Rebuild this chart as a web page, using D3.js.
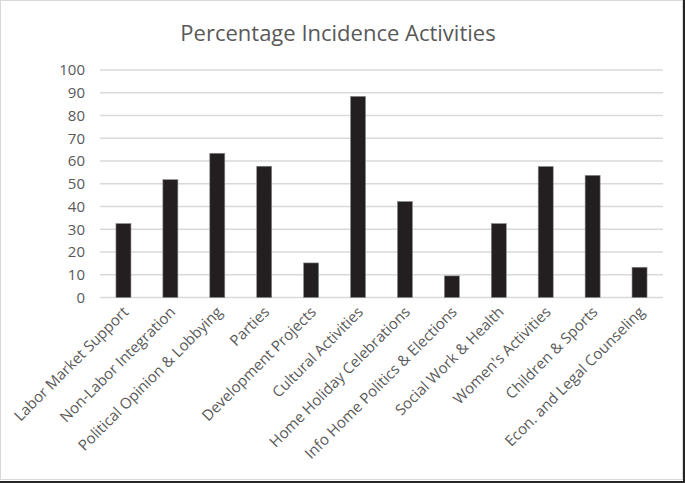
<!DOCTYPE html>
<html>
<head>
<meta charset="utf-8">
<script src="https://cdn.jsdelivr.net/npm/d3@7"></script>
<style>
  body { margin: 0; background: #fff; }
  text { font-family: "Open Sans", sans-serif; fill: #595959; }
</style>
</head>
<body>
<div id="chart"></div>
<script>
// values
var categories = ["Labor Market Support", "Non-Labor Integration", "Political Opinion & Lobbying",
    "Parties", "Development Projects", "Cultural Activities", "Home Holiday Celebrations",
    "Info Home Politics & Elections", "Social Work & Health", "Women's Activities",
    "Children & Sports", "Econ. and Legal Counseling"];
var percentages = [32.5, 51.8, 63.4, 57.7, 15.2, 88.4, 42.2, 9.5, 32.5, 57.6, 53.7, 13.3];
var yTicks = [0, 10, 20, 30, 40, 50, 60, 70, 80, 90, 100];
var title = "Percentage Incidence Activities";

var W = 685, H = 483;
var margin = {top: 70, right: 22, bottom: 185, left: 100};

var svg = d3.select("#chart").append("svg")
    .attr("width", W)
    .attr("height", H);

// frame: light outline plus dark shadow on right and bottom
svg.append("rect")
    .attr("x", 0.5).attr("y", 0.5)
    .attr("width", 682).attr("height", 479)
    .attr("fill", "white")
    .attr("stroke", "#d9d9d9");
svg.append("rect")
    .attr("x", 683).attr("y", 0)
    .attr("width", 2).attr("height", H)
    .attr("fill", "#262626");
svg.append("rect")
    .attr("x", 0).attr("y", 481)
    .attr("width", W).attr("height", 2)
    .attr("fill", "#262626");

var x = d3.scaleBand()
    .domain(categories)
    .range([margin.left, 663])
    .paddingInner(0.68)
    .paddingOuter(0.34);

var y = d3.scaleLinear()
    .domain([0, 100])
    .range([297.5, margin.top]);

// gridlines
svg.append("g")
    .selectAll("line")
    .data(yTicks)
    .join("line")
    .attr("x1", margin.left)
    .attr("x2", 663)
    .attr("y1", function(d) { return y(d); })
    .attr("y2", function(d) { return y(d); })
    .style("stroke", "#d9d9d9")
    .style("stroke-width", 1.3);

// y axis labels
var yAxis = d3.axisLeft(y)
    .tickValues(yTicks)
    .tickSize(0)
    .tickPadding(15);
var yg = svg.append("g")
    .attr("transform", "translate(" + margin.left + ",0)")
    .call(yAxis);
yg.select(".domain").remove();
yg.selectAll("text")
    .style("font-size", "15px")
    .style("fill", "#595959")
    .style("font-family", "'Open Sans', sans-serif");

// bars
svg.append("g")
    .selectAll("rect")
    .data(percentages)
    .join("rect")
    .attr("x", function(d, i) { return x(categories[i]); })
    .attr("y", function(d) { return y(d); })
    .attr("width", x.bandwidth())
    .attr("height", function(d) { return y(0) - y(d); })
    .style("fill", "#231f20")
    .style("stroke", "#8c8c8c")
    .style("stroke-width", 0.6);

// category labels, rotated 45 degrees
svg.append("g")
    .selectAll("text")
    .data(categories)
    .join("text")
    .attr("transform", function(d) {
        var cx = x(d) + x.bandwidth() / 2 + 6;
        return "translate(" + cx + ",313) rotate(-45)";
    })
    .attr("text-anchor", "end")
    .style("font-size", "15px")
    .text(function(d) { return d; });

// title
svg.append("text")
    .attr("x", 338)
    .attr("y", 41)
    .attr("text-anchor", "middle")
    .style("font-size", "22px")
    .text(title);
</script>
</body>
</html>
